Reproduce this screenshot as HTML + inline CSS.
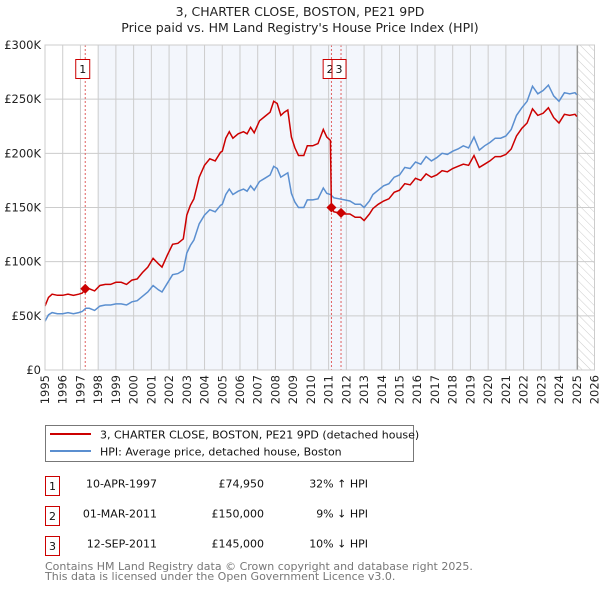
<!DOCTYPE html>
<html><head><meta charset="utf-8"><style>
body{margin:0;background:#fff;font-family:"Liberation Sans","DejaVu Sans",sans-serif;}
svg text{font-family:"DejaVu Sans","Liberation Sans",sans-serif;}
</style></head><body>
<svg id="chart" width="600" height="590" xmlns="http://www.w3.org/2000/svg">
<defs>
<pattern id="hatch" width="6" height="6" patternUnits="userSpaceOnUse" patternTransform="rotate(-45)">
<line x1="0" y1="0" x2="0" y2="6" stroke="#ccc" stroke-width="1"/>
</pattern>
</defs>
<text x="300" y="16" text-anchor="middle" font-size="12.5" fill="#222">3, CHARTER CLOSE, BOSTON, PE21 9PD</text>
<text x="300" y="32" text-anchor="middle" font-size="12.5" fill="#222">Price paid vs. HM Land Registry's House Price Index (HPI)</text>
<g id="plot"></g>
<g>
<rect x="45.5" y="425.5" width="368" height="36" fill="#fff" stroke="#777"/>
<line x1="50" y1="434" x2="91" y2="434" stroke="#cc0000" stroke-width="2"/>
<text x="100" y="438.5" font-size="11" fill="#111">3, CHARTER CLOSE, BOSTON, PE21 9PD (detached house)</text>
<line x1="50" y1="451" x2="91" y2="451" stroke="#5b8fd0" stroke-width="2"/>
<text x="100" y="455.5" font-size="11" fill="#111">HPI: Average price, detached house, Boston</text>
</g>
<g font-size="11" fill="#111">
<rect x="45.5" y="476.5" width="14" height="19" fill="none" stroke="#cc0000"/>
<text x="52.5" y="490" text-anchor="middle">1</text>
<text x="157" y="487.5" text-anchor="end">10-APR-1997</text>
<text x="264" y="487.5" text-anchor="end">£74,950</text>
<text x="368" y="487.5" text-anchor="end">32% ↑ HPI</text>
<rect x="45.5" y="506.5" width="14" height="19" fill="none" stroke="#cc0000"/>
<text x="52.5" y="520" text-anchor="middle">2</text>
<text x="157" y="517.5" text-anchor="end">01-MAR-2011</text>
<text x="264" y="517.5" text-anchor="end">£150,000</text>
<text x="368" y="517.5" text-anchor="end">9% ↓ HPI</text>
<rect x="45.5" y="536.5" width="14" height="19" fill="none" stroke="#cc0000"/>
<text x="52.5" y="550" text-anchor="middle">3</text>
<text x="157" y="547.5" text-anchor="end">12-SEP-2011</text>
<text x="264" y="547.5" text-anchor="end">£145,000</text>
<text x="368" y="547.5" text-anchor="end">10% ↓ HPI</text>
</g>
<text x="45" y="570" font-size="11" fill="#777">Contains HM Land Registry data © Crown copyright and database right 2025.</text>
<text x="45" y="580" font-size="11" fill="#777">This data is licensed under the Open Government Licence v3.0.</text>
</svg>
<script>
const yTicks=[0,50000,100000,150000,200000,250000,300000];
const yTickLabels=["£0","£50K","£100K","£150K","£200K","£250K","£300K"];
const years=[1995,1996,1997,1998,1999,2000,2001,2002,2003,2004,2005,2006,2007,2008,2009,2010,2011,2012,2013,2014,2015,2016,2017,2018,2019,2020,2021,2022,2023,2024,2025,2026];
const hpiDates=[1995.0,1995.2,1995.4,1995.7,1996.0,1996.3,1996.6,1996.9,1997.1,1997.3,1997.5,1997.8,1998.1,1998.4,1998.7,1999.0,1999.3,1999.6,1999.9,2000.2,2000.5,2000.8,2001.1,2001.4,2001.6,2001.9,2002.2,2002.5,2002.8,2003.0,2003.2,2003.4,2003.7,2004.0,2004.3,2004.6,2004.9,2005.0,2005.2,2005.4,2005.6,2005.9,2006.2,2006.4,2006.6,2006.8,2007.1,2007.4,2007.7,2007.9,2008.1,2008.3,2008.5,2008.7,2008.9,2009.1,2009.3,2009.6,2009.8,2010.1,2010.4,2010.7,2010.9,2011.1,2011.3,2011.6,2011.9,2012.2,2012.5,2012.8,2013.0,2013.3,2013.5,2013.8,2014.1,2014.4,2014.7,2015.0,2015.3,2015.6,2015.9,2016.2,2016.5,2016.8,2017.1,2017.4,2017.7,2018.0,2018.3,2018.6,2018.9,2019.2,2019.5,2019.8,2020.1,2020.4,2020.7,2021.0,2021.3,2021.6,2021.9,2022.2,2022.5,2022.8,2023.1,2023.4,2023.7,2024.0,2024.3,2024.6,2024.9,2025.0];
const hpiValues=[45,51,53,52,52,53,52,53,54,57,57,55,59,60,60,61,61,60,63,64,68,72,78,74,72,80,88,89,92,108,115,120,135,143,148,146,152,153,162,167,162,165,167,165,170,166,174,177,180,188,186,178,180,182,163,155,150,150,157,157,158,168,163,162,159,158,157,156,153,153,150,156,162,166,170,172,178,180,187,186,192,190,197,193,196,200,199,202,204,207,205,215,203,207,210,214,214,216,222,235,242,248,262,255,258,263,253,248,256,255,256,254];
const priceDates=[1995.0,1995.2,1995.4,1995.7,1996.0,1996.3,1996.6,1996.9,1997.1,1997.3,1997.5,1997.8,1998.1,1998.4,1998.7,1999.0,1999.3,1999.6,1999.9,2000.2,2000.5,2000.8,2001.1,2001.4,2001.6,2001.9,2002.2,2002.5,2002.8,2003.0,2003.2,2003.4,2003.7,2004.0,2004.3,2004.6,2004.9,2005.0,2005.2,2005.4,2005.6,2005.9,2006.2,2006.4,2006.6,2006.8,2007.1,2007.4,2007.7,2007.9,2008.1,2008.3,2008.5,2008.7,2008.9,2009.1,2009.3,2009.6,2009.8,2010.1,2010.4,2010.7,2010.9,2011.1,2011.16,2011.3,2011.6,2011.9,2012.2,2012.5,2012.8,2013.0,2013.3,2013.5,2013.8,2014.1,2014.4,2014.7,2015.0,2015.3,2015.6,2015.9,2016.2,2016.5,2016.8,2017.1,2017.4,2017.7,2018.0,2018.3,2018.6,2018.9,2019.2,2019.5,2019.8,2020.1,2020.4,2020.7,2021.0,2021.3,2021.6,2021.9,2022.2,2022.5,2022.8,2023.1,2023.4,2023.7,2024.0,2024.3,2024.6,2024.9,2025.0];
const priceValues=[59,67,70,69,69,70,69,70,71,75,75,73,78,79,79,81,81,79,83,84,90,95,103,98,95,106,116,117,121,143,152,158,178,189,195,193,201,202,214,220,214,218,220,218,224,219,230,234,238,248,246,235,238,240,215,205,198,198,207,207,209,222,215,212,150,146,145,144,144,141,141,138,144,149,153,156,158,164,166,172,171,177,175,181,178,180,184,183,186,188,190,189,198,187,190,193,197,197,199,204,216,223,228,241,235,237,242,233,228,236,235,236,234];
const saleLabels=["1","2","3"];
const saleDates=[1997.27,2011.16,2011.7];
const salePrices=[74950,150000,145000];

const X0=45,X1=594.5,Y0=370,Y1=45;
const x=t=>X0+(t-1995)/(2026-1995)*(X1-X0);
const y=v=>Y0-v/300000*(Y0-Y1);
const NS="http://www.w3.org/2000/svg";
const g=document.getElementById('plot');
function mk(tag,attrs,parent){const e=document.createElementNS(NS,tag);for(const k in attrs)e.setAttribute(k,attrs[k]);(parent||g).appendChild(e);return e;}

let bg=mk('rect',{x:X0,y:Y1,width:X1-X0,height:Y0-Y1,fill:'#fff'});


let sh=mk('rect',{x:x(1998),y:Y1,width:x(2025.04)-x(1998),height:Y0-Y1,fill:'#f3f6fc'});


let ht=mk('rect',{x:x(2025.04),y:Y1,width:X1-x(2025.04),height:Y0-Y1,fill:'url(#hatch)'});



years.forEach(yr=>{
  const gl=mk('line',{x1:x(yr),x2:x(yr),y1:Y1,y2:Y0,stroke:'#ccc','stroke-width':1});
  
  
  const t=mk('text',{x:0,y:0,'font-size':11.5,fill:'#222','text-anchor':'end',transform:`translate(${x(yr)+4},${Y0+5}) rotate(-90)`});
  t.textContent=yr;
  
  
});
yTicks.forEach((v,i)=>{
  const gl=mk('line',{x1:X0,x2:X1,y1:y(v),y2:y(v),stroke:'#ccc','stroke-width':1});
  
  
  const t=mk('text',{x:X0-4,y:y(v)+4,'font-size':11.5,fill:'#222','text-anchor':'end'});
  t.textContent=yTickLabels[i];
  
  
});
let nl=mk('line',{x1:x(2025.04),x2:x(2025.04),y1:Y1,y2:Y0,stroke:'#999','stroke-width':1.2});



saleDates.forEach((d,i)=>{
  const l=mk('line',{x1:x(d),x2:x(d),y1:Y1,y2:Y0,stroke:'#e06060','stroke-width':1,'stroke-dasharray':'2,2'});
  
  
});

const hp=hpiDates.map((d,i)=>x(d).toFixed(1)+','+y(hpiValues[i]*1000).toFixed(1)).join(' ');
let hl=mk('polyline',{points:hp,fill:'none',stroke:'#5b8fd0','stroke-width':1.5});


const pp=priceDates.map((d,i)=>x(d).toFixed(1)+','+y(priceValues[i]*1000).toFixed(1)).join(' ');
let pl=mk('polyline',{points:pp,fill:'none',stroke:'#cc0000','stroke-width':1.5});



saleDates.forEach((d,i)=>{
  const cx=x(d),cy=y(salePrices[i]);
  const p=mk('polygon',{points:`${cx},${cy-5} ${cx+5},${cy} ${cx},${cy+5} ${cx-5},${cy}`,fill:'#cc0000'});
  
  
});
// numbered label boxes (2 and 3 overlap as in the original)
const boxOffsets=[-9.5,-8.3,-9];
saleDates.forEach((d,i)=>{
  const bx=x(d)+boxOffsets[i];
  const r=mk('rect',{x:bx,y:59.5,width:14,height:19,fill:'#fff',stroke:'#cc0000'});
  
  
  const t=mk('text',{x:bx+7,y:73,'font-size':11,fill:'#111','text-anchor':'middle'});
  t.textContent=saleLabels[i];
  
  
});
let fr=mk('rect',{x:X0,y:Y1,width:X1-X0,height:Y0-Y1,fill:'none',stroke:'#ccc'});


</script>
</body></html>
